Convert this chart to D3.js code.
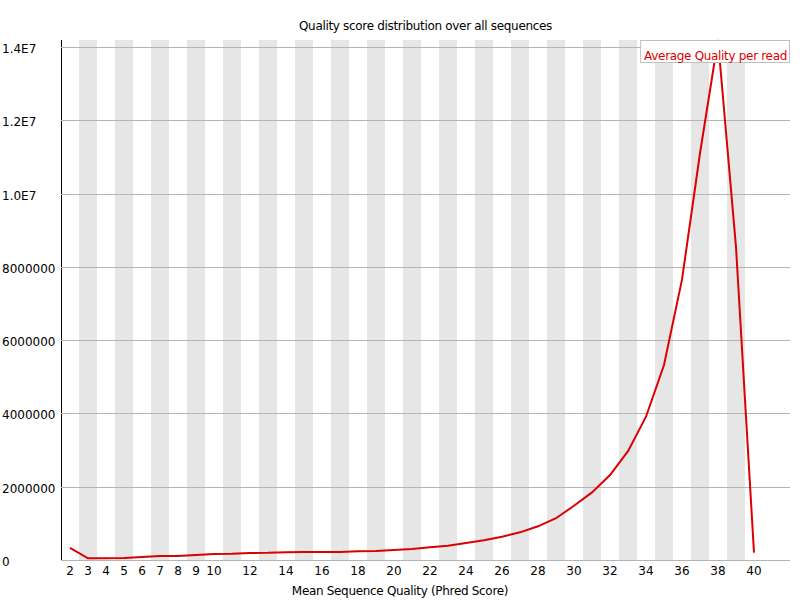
<!DOCTYPE html>
<html>
<head>
<meta charset="utf-8">
<script src="https://cdn.jsdelivr.net/npm/d3@7"></script>
<style>
  html, body { margin: 0; padding: 0; background: #fff; }
  svg text { font-family: "DejaVu Sans", sans-serif; font-size: 12px; }
  svg text.words { letter-spacing: -0.32px; }
</style>
</head>
<body>
<svg id="chart" width="800" height="600"></svg>
<script>
// ---- data ----
const categories = [2,3,4,5,6,7,8,9,10,11,12,13,14,15,16,17,18,19,20,21,22,23,24,25,26,27,28,29,30,31,32,33,34,35,36,37,38,39,40];
const counts = [330000,45000,48000,52000,82000,110000,112000,136000,166000,172000,190000,195000,214000,216000,216000,215000,237000,245000,273000,300000,346000,391000,464000,537000,637000,755000,919000,1140000,1480000,1845000,2320000,2970000,3910000,5320000,7650000,11100000,14190000,8540000,200000];
const xTickLabels = [2,3,4,5,6,7,8,9,10,12,14,16,18,20,22,24,26,28,30,32,34,36,38,40];
const yTicks = [0,2000000,4000000,6000000,8000000,10000000,12000000,14000000];
const yTickLabels = ["0","2000000","4000000","6000000","8000000","1.0E7","1.2E7","1.4E7"];
const seriesName = "Average Quality per read";
const title = "Quality score distribution over all sequences";
const xTitle = "Mean Sequence Quality (Phred Score)";

// ---- layout ----
const W = 800, H = 600;
const xOffset = 61;
const baseWidth = Math.floor((W - (xOffset + 10)) / categories.length);
const svg = d3.select("#chart");

const x = d3.scaleBand()
  .domain(categories)
  .range([xOffset, xOffset + baseWidth * categories.length])
  .paddingInner(0).paddingOuter(0);
const y = d3.scaleLinear()
  .domain([0, d3.max(counts)])
  .range([H - 40, 40]);

// stripes
svg.append("g").selectAll("rect")
  .data(categories.filter((d, i) => i % 2 === 1))
  .join("rect")
  .attr("x", d => x(d))
  .attr("y", 40)
  .attr("width", x.bandwidth())
  .attr("height", H - 80)
  .attr("fill", "rgb(230,230,230)");

// title
svg.append("text")
  .attr("class", "words")
  .attr("x", xOffset + (W - (xOffset + 10)) / 2)
  .attr("y", 30)
  .attr("text-anchor", "middle")
  .attr("fill", "#000")
  .text(title);

// y axis line
svg.append("line")
  .attr("x1", xOffset + 0.5).attr("x2", xOffset + 0.5)
  .attr("y1", 40).attr("y2", H - 40)
  .attr("stroke", "#000");

// grid + y labels
const yg = svg.append("g");
yg.selectAll("line")
  .data(yTicks)
  .join("line")
  .attr("x1", xOffset).attr("x2", W - 10)
  .attr("y1", d => Math.round(y(d)) + 0.5)
  .attr("y2", d => Math.round(y(d)) + 0.5)
  .attr("stroke", "rgb(180,180,180)");
yg.selectAll("text")
  .data(yTicks)
  .join("text")
  .attr("x", 2)
  .attr("y", d => Math.round(y(d)) + 6)
  .attr("fill", "#000")
  .text((d, i) => yTickLabels[i]);

// x tick labels
svg.append("g").selectAll("text")
  .data(xTickLabels)
  .join("text")
  .attr("x", d => x(d) + x.bandwidth() / 2)
  .attr("y", H - 25)
  .attr("text-anchor", "middle")
  .attr("fill", "#000")
  .text(d => d);

// x title
svg.append("text")
  .attr("class", "words")
  .attr("x", W / 2)
  .attr("y", H - 5)
  .attr("text-anchor", "middle")
  .attr("fill", "#000")
  .text(xTitle);

// line
const line = d3.line()
  .x((d, i) => x(categories[i]) + x.bandwidth() / 2)
  .y(d => y(d));
svg.append("path")
  .datum(counts)
  .attr("d", line)
  .attr("fill", "none")
  .attr("stroke", "rgb(220,0,0)")
  .attr("stroke-width", 2)
  .attr("stroke-linejoin", "miter");

// legend
const lg = svg.append("g");
const lbox = lg.append("rect")
  .attr("fill", "#fff")
  .attr("stroke", "rgb(192,192,192)");
const ltext = lg.append("text")
  .attr("class", "words")
  .attr("y", 60)
  .attr("fill", "rgb(220,0,0)")
  .text(seriesName);
const tw = ltext.node().getComputedTextLength();
const textX = (W - 10) - 3 - tw;
ltext.attr("x", textX);
lbox.attr("x", textX - 3.5).attr("y", 40.5)
  .attr("width", tw + 6).attr("height", 22);
</script>
</body>
</html>
